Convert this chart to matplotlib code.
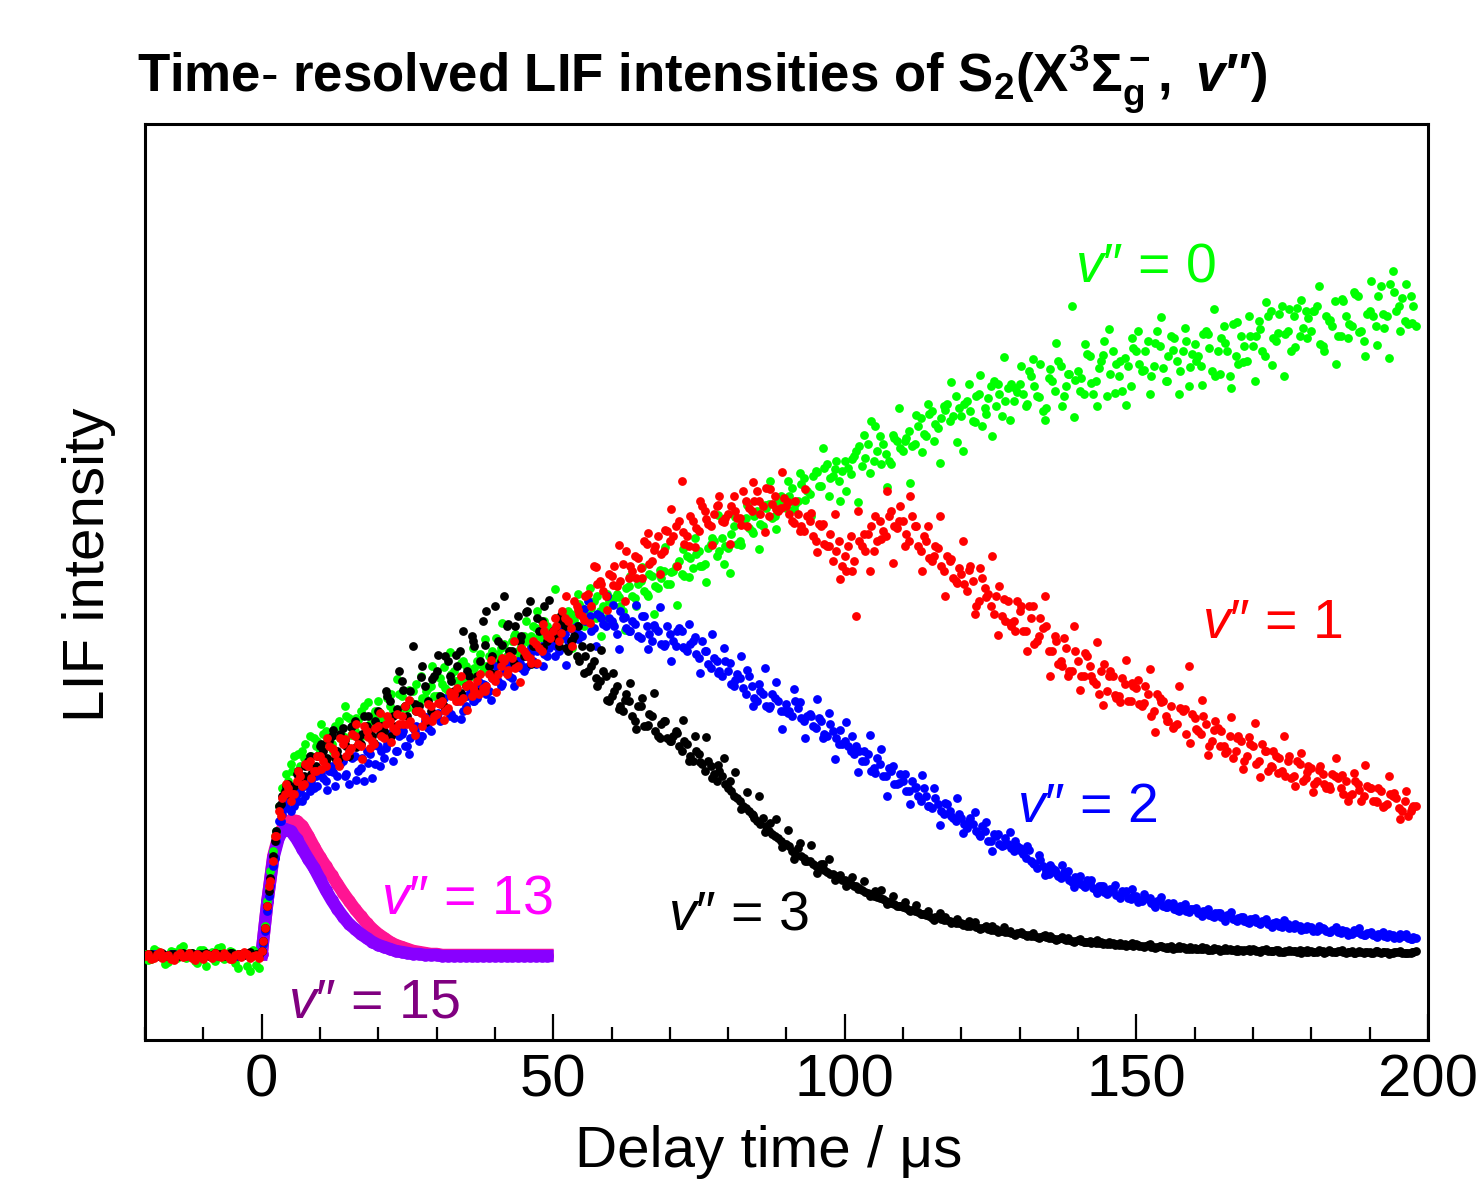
import numpy as np
import matplotlib
matplotlib.use("Agg")
import matplotlib.pyplot as plt
from matplotlib.ticker import MultipleLocator

plt.rcParams['font.family'] = ['Liberation Sans', 'DejaVu Sans']
plt.rcParams['mathtext.fontset'] = 'custom'
plt.rcParams['mathtext.rm'] = 'Liberation Sans'
plt.rcParams['mathtext.it'] = 'Liberation Sans:italic'
plt.rcParams['mathtext.bf'] = 'Liberation Sans:bold'
plt.rcParams['mathtext.bfit'] = 'Liberation Sans:bold:italic'

# ---------------- data ----------------
t_main = np.arange(-20, 199)             # delay time grid (us), v''=0..3, set A
t_half = np.arange(-19.5, 198, 1.0)      # delay time grid (us), v''=0..3, set B
t_quar = np.arange(0.25, 198, 1.0)       # delay time grid (us), v''=0..3, set C
t_fast = np.arange(0, 50)                # delay time grid (us), v''=13, 15

# ---- set A (integer delays) ----
v0_green_a = [
    0.02, -0.03, 0.05, 0.01, -0.06, 0.04, 0.08, -0.02, 0.03, -0.07,
    0.06, 0.02, -0.05, 0.09, -0.01, 0.04, -0.12, 0.03, -0.15, -0.09,
    0.05, 0.55, 1.05, 1.5, 1.7, 1.92, 1.85, 2.05, 1.98, 2.18,
    2.05, 2.25, 2.12, 2.3, 2.2, 2.38, 2.25, 2.45, 2.3, 2.4,
    2.55, 2.35, 2.5, 2.42, 2.6, 2.48, 2.65, 2.52, 2.58, 2.7,
    2.6, 2.72, 2.65, 2.85, 2.75, 2.9, 2.8, 2.95, 2.85, 3.0,
    2.95, 3.08, 3.0, 3.15, 3.05, 3.2, 3.12, 3.28, 3.18, 3.3,
    3.22, 3.35, 3.28, 3.42, 3.3, 3.48, 3.4, 3.55, 3.45, 3.38,
    3.52, 3.62, 3.45, 3.7, 3.58, 3.75, 3.62, 3.8, 3.68, 3.85,
    3.72, 3.9, 3.82, 4.0, 3.88, 4.05, 3.92, 4.12, 4.0, 4.18,
    4.08, 4.3, 4.15, 4.38, 4.25, 4.45, 4.3, 4.52, 4.4, 4.6,
    4.48, 4.68, 4.55, 4.78, 4.62, 4.85, 4.7, 4.92, 4.8, 4.75,
    4.95, 4.82, 5.05, 4.9, 5.12, 4.95, 5.2, 5.02, 4.92, 5.15,
    5.05, 5.25, 5.12, 5.38, 5.2, 5.45, 5.28, 5.5, 5.35, 5.6,
    5.4, 5.55, 5.35, 5.62, 5.48, 5.7, 5.5, 5.4, 5.68, 5.55,
    5.72, 5.5, 5.8, 5.6, 5.45, 5.78, 5.65, 5.9, 5.7, 6.5,
    5.85, 5.62, 6.0, 5.75, 5.95, 5.6, 6.05, 5.8, 5.98, 5.7,
    6.05, 5.85, 6.15, 5.9, 6.1, 5.75, 6.2, 5.95, 6.05, 5.7,
    6.12, 5.9, 6.25, 5.85, 6.05, 6.3, 5.8, 6.0, 6.2, 5.95,
    6.1, 6.35, 6.0, 6.45, 6.15, 6.5, 6.25, 6.4, 6.2, 6.45,
    6.25, 6.5, 6.1, 6.35, 6.55, 6.2, 6.4, 6.3, 6.6, 6.15,
    6.45, 6.3, 6.7, 6.4, 6.85, 6.5, 6.35, 6.6, 6.3]

v1_red_a = [
    0.0, -0.03, 0.02, -0.02, 0.01, -0.04, 0.03, 0.0, -0.02, 0.02,
    -0.03, 0.01, 0.03, -0.01, 0.0, -0.03, 0.02, 0.04, -0.02, 0.01,
    0.05, 0.5, 0.95, 1.45, 1.62, 1.55, 1.75, 1.7, 1.9, 1.85,
    2.0, 1.9, 2.08, 1.95, 2.12, 2.05, 2.2, 2.1, 2.25, 2.15,
    2.3, 2.18, 2.35, 2.25, 2.4, 2.32, 2.28, 2.45, 2.38, 2.5,
    2.42, 2.55, 2.48, 2.62, 2.55, 2.7, 2.6, 2.75, 2.68, 2.82,
    2.75, 2.9, 2.82, 2.98, 2.9, 3.05, 2.98, 3.12, 3.05, 3.2,
    3.25, 3.15, 3.38, 3.28, 3.5, 3.4, 3.62, 3.9, 3.75, 3.6,
    3.8, 3.7, 3.92, 3.78, 4.0, 3.88, 4.12, 3.95, 4.2, 4.05,
    4.15, 4.3, 4.75, 4.2, 4.35, 4.25, 4.45, 4.3, 4.5, 4.35,
    4.42, 4.6, 4.38, 4.55, 4.45, 4.65, 4.5, 4.4, 4.6, 4.48,
    4.5, 4.35, 4.42, 4.25, 4.35, 4.15, 4.3, 4.1, 3.95, 4.15,
    4.0, 4.2, 3.4, 4.1, 4.22, 4.05, 4.35, 4.2, 4.45, 4.28,
    4.35, 4.15, 4.3, 4.05, 4.15, 3.95, 4.08, 3.85, 3.95, 3.75,
    3.82, 3.65, 3.75, 3.55, 3.68, 3.5, 3.6, 3.4, 3.55, 3.35,
    3.45, 3.25, 3.38, 3.15, 3.28, 3.05, 3.2, 2.95, 3.08, 2.85,
    2.95, 2.8, 2.9, 2.72, 2.85, 2.65, 2.8, 2.6, 2.72, 2.55,
    2.68, 2.5, 2.62, 2.45, 2.58, 2.4, 2.5, 2.32, 2.45, 2.9,
    2.38, 2.22, 2.32, 2.15, 2.28, 2.1, 2.2, 2.05, 2.15, 2.0,
    2.1, 1.95, 2.05, 1.9, 2.0, 1.85, 1.95, 1.8, 1.92, 1.78,
    1.88, 1.75, 1.82, 1.7, 1.8, 1.68, 1.75, 1.62, 1.72, 1.6,
    1.68, 1.55, 1.65, 1.52, 1.6, 1.48, 1.55, 1.45, 1.5]

v2_blue_a = [
    0.01, 0.0, 0.02, 0.01, 0.0, 0.02, 0.01, 0.0, 0.01, 0.02,
    0.0, 0.01, 0.02, 0.0, 0.01, 0.02, 0.0, 0.01, 0.02, 0.01,
    0.05, 0.45, 0.9, 1.35, 1.5, 1.45, 1.62, 1.55, 1.72, 1.68,
    1.82, 1.75, 1.9, 1.8, 1.95, 1.72, 2.0, 1.88, 2.05, 1.78,
    2.1, 1.98, 2.15, 2.05, 2.22, 2.1, 2.28, 2.15, 2.35, 2.25,
    2.4, 2.55, 2.45, 2.38, 2.6, 2.5, 2.68, 2.58, 2.72, 2.65,
    2.8, 2.7, 2.88, 2.78, 2.95, 2.85, 3.02, 2.92, 3.1, 3.0,
    3.15, 3.05, 3.22, 3.12, 3.3, 3.2, 3.55, 3.28, 3.4, 3.3,
    3.35, 3.22, 3.38, 3.25, 3.32, 3.18, 3.3, 3.15, 3.25, 3.1,
    3.22, 3.1, 3.25, 3.05, 3.15, 2.98, 3.05, 2.88, 2.95, 2.8,
    2.85, 2.7, 2.78, 2.62, 2.7, 2.55, 2.62, 2.48, 2.58, 2.45,
    2.52, 2.4, 2.48, 2.35, 2.42, 2.28, 2.35, 2.2, 2.25, 2.12,
    2.15, 2.05, 2.1, 1.95, 2.02, 1.88, 1.92, 1.8, 1.85, 1.72,
    1.75, 1.65, 1.68, 1.55, 1.6, 1.48, 1.52, 1.42, 1.45, 1.35,
    1.38, 1.28, 1.32, 1.22, 1.25, 1.15, 1.2, 1.1, 1.12, 1.05,
    1.08, 0.98, 0.95, 0.88, 0.9, 0.82, 0.86, 0.78, 0.8, 0.74,
    0.76, 0.7, 0.73, 0.66, 0.7, 0.62, 0.66, 0.6, 0.63, 0.57,
    0.6, 0.55, 0.57, 0.51, 0.55, 0.49, 0.52, 0.46, 0.5, 0.44,
    0.47, 0.42, 0.45, 0.4, 0.43, 0.38, 0.41, 0.36, 0.39, 0.34,
    0.37, 0.33, 0.35, 0.31, 0.34, 0.29, 0.32, 0.28, 0.3, 0.27,
    0.29, 0.25, 0.28, 0.24, 0.27, 0.23, 0.25, 0.22, 0.24, 0.21,
    0.23, 0.2, 0.22, 0.19, 0.21, 0.18, 0.2, 0.17, 0.18]

v3_black_a = [
    0.01, 0.02, 0.0, 0.03, 0.01, 0.02, 0.0, 0.02, 0.03, 0.01,
    0.02, 0.0, 0.03, 0.02, 0.01, 0.03, 0.02, 0.01, 0.04, 0.02,
    0.05, 0.5, 1.0, 1.5, 1.65, 1.6, 1.82, 1.75, 1.95, 1.88,
    2.1, 1.95, 2.2, 2.05, 2.28, 2.0, 2.35, 2.12, 2.3, 2.2,
    2.45, 2.25, 2.55, 2.3, 2.75, 2.4, 3.1, 2.5, 2.7, 2.45,
    2.85, 2.55, 2.95, 2.65, 3.05, 2.7, 3.2, 2.8, 3.35, 2.9,
    3.5, 2.95, 3.3, 3.05, 3.4, 3.0, 3.55, 3.1, 3.35, 3.15,
    3.25, 3.1, 3.3, 3.15, 3.0, 3.1, 2.85, 2.95, 2.75, 2.8,
    2.6, 2.7, 2.45, 2.55, 2.35, 2.5, 2.3, 2.4, 2.2, 2.35,
    2.15, 2.25, 2.05, 2.12, 1.95, 2.02, 1.85, 1.9, 1.75, 1.8,
    1.68, 1.6, 1.55, 1.48, 1.42, 1.35, 1.38, 1.25, 1.2, 1.15,
    1.12, 1.05, 1.08, 0.98, 0.95, 0.9, 0.92, 0.84, 0.82, 0.78,
    0.76, 0.72, 0.7, 0.66, 0.63, 0.6, 0.58, 0.55, 0.53, 0.5,
    0.49, 0.46, 0.45, 0.42, 0.41, 0.38, 0.39, 0.36, 0.35, 0.33,
    0.33, 0.3, 0.31, 0.28, 0.29, 0.26, 0.27, 0.25, 0.24, 0.22,
    0.23, 0.21, 0.2, 0.19, 0.2, 0.18, 0.17, 0.18, 0.16, 0.15,
    0.16, 0.14, 0.15, 0.13, 0.14, 0.12, 0.13, 0.11, 0.12, 0.11,
    0.12, 0.1, 0.11, 0.09, 0.1, 0.08, 0.1, 0.08, 0.09, 0.07,
    0.08, 0.07, 0.08, 0.06, 0.07, 0.06, 0.07, 0.05, 0.06, 0.06,
    0.07, 0.05, 0.06, 0.05, 0.06, 0.04, 0.05, 0.05, 0.06, 0.04,
    0.05, 0.04, 0.05, 0.06, 0.04, 0.05, 0.03, 0.05, 0.04, 0.03,
    0.04, 0.05, 0.03, 0.04, 0.03, 0.04, 0.03, 0.03, 0.05]

# ---- set B (half-integer delays) ----
v0_green_b = [
    -0.04, 0.07, 0.0, -0.08, 0.05, -0.02, 0.1, 0.03, -0.05, 0.06,
    -0.1, 0.04, 0.08, -0.03, 0.05, -0.07, 0.02, -0.1, 0.06, -0.12,
    0.3, 0.85, 1.25, 1.68, 1.75, 2.0, 1.9, 2.12, 2.0, 2.15,
    2.22, 2.1, 2.3, 2.18, 2.4, 2.28, 2.36, 2.5, 2.32, 2.45,
    2.38, 2.58, 2.45, 2.62, 2.5, 2.55, 2.72, 2.58, 2.68, 2.6,
    2.78, 2.68, 2.82, 2.75, 2.95, 2.82, 2.88, 3.02, 2.9, 3.05,
    3.02, 3.12, 3.05, 3.22, 3.1, 3.15, 3.3, 3.2, 3.35, 3.25,
    3.38, 3.3, 3.45, 3.36, 3.52, 3.42, 3.48, 3.6, 3.5, 3.55,
    3.58, 3.5, 3.68, 3.6, 3.72, 3.65, 3.82, 3.7, 3.78, 3.72,
    3.85, 3.95, 3.8, 3.98, 4.02, 3.9, 4.08, 4.15, 4.05, 4.1,
    4.22, 4.12, 4.35, 4.28, 4.4, 4.32, 4.48, 4.38, 4.55, 4.5,
    4.6, 4.52, 4.72, 4.65, 4.8, 4.7, 4.88, 4.78, 4.95, 4.85,
    4.88, 5.0, 5.1, 4.98, 5.35, 5.05, 5.12, 4.95, 5.18, 5.08,
    5.18, 5.1, 5.3, 5.22, 5.42, 5.32, 5.38, 5.52, 5.4, 5.48,
    5.52, 5.45, 5.6, 5.3, 5.58, 5.75, 5.62, 5.55, 5.72, 5.64,
    5.62, 5.85, 5.7, 5.92, 5.48, 5.75, 5.95, 5.6, 5.82, 5.76,
    5.78, 6.02, 5.62, 5.88, 6.15, 5.82, 5.92, 5.65, 5.9, 6.08,
    5.92, 6.05, 5.8, 6.25, 5.88, 6.0, 6.18, 5.85, 6.15, 6.02,
    6.0, 6.22, 6.08, 5.8, 6.18, 6.05, 6.32, 5.92, 6.1, 6.2,
    6.2, 6.05, 6.4, 6.18, 6.42, 6.22, 6.05, 6.48, 6.28, 6.38,
    6.45, 6.12, 6.4, 6.3, 6.2, 6.55, 6.32, 6.62, 6.25, 6.42,
    6.4, 6.6, 6.28, 6.72, 6.45, 6.58, 6.32, 6.5]

v1_red_b = [
    0.02, -0.02, 0.04, 0.0, -0.03, 0.01, -0.01, 0.03, -0.04, 0.0,
    0.02, -0.02, 0.0, 0.03, -0.03, 0.01, -0.01, 0.02, 0.0, -0.02,
    0.28, 0.75, 1.2, 1.58, 1.68, 1.62, 1.8, 1.92, 1.78, 2.0,
    1.95, 2.1, 2.02, 2.18, 2.0, 2.22, 2.12, 2.3, 2.08, 2.28,
    2.2, 2.4, 2.28, 2.32, 2.5, 2.35, 2.45, 2.3, 2.52, 2.4,
    2.52, 2.45, 2.6, 2.68, 2.58, 2.72, 2.65, 2.82, 2.7, 2.78,
    2.82, 2.95, 3.0, 2.88, 3.08, 3.0, 3.15, 3.08, 3.25, 3.18,
    3.3, 3.45, 3.35, 3.55, 3.42, 3.6, 3.5, 3.72, 3.65, 3.82,
    3.9, 3.75, 4.05, 3.85, 3.98, 4.15, 3.92, 4.1, 4.02, 4.25,
    4.2, 4.35, 4.12, 4.4, 4.28, 4.5, 4.32, 4.42, 4.6, 4.38,
    4.5, 4.38, 4.65, 4.48, 4.55, 4.42, 4.68, 4.52, 4.45, 4.58,
    4.42, 4.55, 4.3, 4.4, 4.2, 4.32, 4.12, 4.22, 4.05, 3.9,
    4.1, 3.95, 4.15, 4.05, 4.3, 4.15, 4.25, 4.4, 4.3, 4.5,
    4.22, 4.4, 4.1, 4.2, 3.98, 4.1, 3.9, 4.0, 3.78, 3.88,
    3.72, 3.9, 3.5, 3.78, 3.62, 3.42, 3.7, 3.35, 3.3, 3.55,
    3.25, 3.5, 3.12, 3.38, 3.3, 3.05, 2.92, 3.18, 2.85, 3.05,
    2.8, 3.0, 2.75, 2.62, 2.92, 2.85, 2.58, 2.78, 2.55, 2.7,
    2.52, 2.7, 2.4, 2.62, 2.55, 2.35, 2.3, 2.48, 2.22, 2.42,
    2.25, 2.4, 2.1, 2.35, 2.25, 2.05, 1.98, 2.2, 1.95, 2.12,
    1.92, 2.12, 1.85, 2.05, 1.98, 1.8, 1.78, 1.95, 1.75, 1.9,
    1.72, 1.9, 1.68, 1.82, 1.78, 1.62, 1.6, 1.75, 1.55, 1.7,
    1.55, 1.68, 1.5, 1.62, 1.58, 1.45, 1.4, 1.5]

v2_blue_b = [
    0.01, 0.02, 0.0, 0.01, 0.02, 0.01, 0.0, 0.02, 0.01, 0.0,
    0.02, 0.01, 0.0, 0.01, 0.02, 0.0, 0.01, 0.02, 0.01, 0.0,
    0.25, 0.7, 1.15, 1.42, 1.55, 1.5, 1.65, 1.6, 1.75, 1.7,
    1.78, 1.85, 1.7, 1.92, 1.82, 1.98, 1.85, 1.75, 2.02, 1.92,
    2.05, 2.12, 1.95, 2.2, 2.1, 2.18, 2.3, 2.2, 2.28, 2.4,
    2.35, 2.48, 2.42, 2.55, 2.45, 2.62, 2.55, 2.7, 2.62, 2.78,
    2.75, 2.85, 2.8, 2.92, 2.88, 3.0, 2.95, 3.08, 3.02, 3.15,
    3.1, 3.2, 3.15, 3.28, 3.22, 3.35, 3.25, 3.42, 3.32, 3.38,
    3.3, 3.45, 3.28, 3.35, 3.2, 3.4, 3.22, 3.28, 3.12, 3.3,
    3.15, 3.28, 3.08, 3.12, 3.02, 3.15, 2.92, 2.98, 2.85, 2.95,
    2.72, 2.82, 2.68, 2.8, 2.58, 2.65, 2.5, 2.62, 2.55, 2.45,
    2.45, 2.55, 2.38, 2.4, 2.3, 2.38, 2.22, 2.32, 2.18, 2.12,
    2.1, 2.02, 2.05, 1.95, 1.85, 1.98, 1.8, 1.88, 1.72, 1.82,
    1.65, 1.75, 1.6, 1.68, 1.5, 1.58, 1.45, 1.52, 1.38, 1.42,
    1.32, 1.38, 1.25, 1.3, 1.15, 1.22, 1.12, 1.18, 1.08, 1.1,
    1.02, 1.06, 0.92, 0.96, 0.85, 0.88, 0.8, 0.84, 0.76, 0.79,
    0.72, 0.76, 0.68, 0.7, 0.64, 0.67, 0.61, 0.65, 0.58, 0.6,
    0.56, 0.59, 0.53, 0.55, 0.5, 0.53, 0.47, 0.5, 0.45, 0.47,
    0.43, 0.45, 0.41, 0.43, 0.39, 0.41, 0.37, 0.38, 0.35, 0.37,
    0.34, 0.35, 0.32, 0.33, 0.3, 0.32, 0.29, 0.3, 0.27, 0.28,
    0.26, 0.27, 0.25, 0.26, 0.24, 0.25, 0.23, 0.24, 0.22, 0.23,
    0.21, 0.22, 0.2, 0.21, 0.19, 0.2, 0.18, 0.19]

v3_black_b = [
    0.02, 0.01, 0.03, 0.0, 0.02, 0.01, 0.03, 0.01, 0.0, 0.02,
    0.03, 0.01, 0.02, 0.0, 0.03, 0.01, 0.02, 0.03, 0.01, 0.02,
    0.28, 0.78, 1.25, 1.6, 1.72, 1.7, 1.78, 1.9, 1.82, 2.0,
    2.05, 2.15, 1.98, 2.22, 2.1, 2.3, 2.18, 2.4, 2.25, 2.35,
    2.3, 2.6, 2.4, 2.85, 2.5, 2.65, 2.45, 2.9, 2.55, 2.8,
    2.6, 3.0, 2.75, 2.9, 3.25, 2.8, 3.1, 2.95, 3.45, 3.0,
    3.15, 3.6, 3.05, 3.3, 3.2, 3.45, 3.1, 3.25, 3.5, 3.2,
    3.18, 3.35, 3.05, 3.2, 2.95, 3.0, 2.9, 2.7, 2.85, 2.55,
    2.65, 2.5, 2.62, 2.4, 2.5, 2.3, 2.42, 2.25, 2.32, 2.18,
    2.2, 2.1, 2.15, 2.0, 2.05, 1.92, 1.95, 1.82, 1.85, 1.72,
    1.65, 1.58, 1.5, 1.45, 1.38, 1.32, 1.3, 1.22, 1.18, 1.12,
    1.1, 1.02, 1.0, 0.95, 0.92, 0.88, 0.86, 0.82, 0.8, 0.76,
    0.74, 0.7, 0.68, 0.64, 0.62, 0.59, 0.57, 0.54, 0.52, 0.5,
    0.48, 0.46, 0.44, 0.42, 0.4, 0.39, 0.37, 0.36, 0.34, 0.33,
    0.32, 0.3, 0.29, 0.28, 0.27, 0.26, 0.25, 0.24, 0.23, 0.23,
    0.22, 0.21, 0.2, 0.19, 0.19, 0.18, 0.17, 0.17, 0.16, 0.15,
    0.15, 0.14, 0.14, 0.13, 0.13, 0.12, 0.12, 0.11, 0.11, 0.1,
    0.1, 0.1, 0.09, 0.09, 0.09, 0.08, 0.08, 0.08, 0.07, 0.07,
    0.07, 0.07, 0.06, 0.07, 0.06, 0.06, 0.06, 0.05, 0.06, 0.05,
    0.05, 0.06, 0.05, 0.05, 0.04, 0.05, 0.05, 0.04, 0.05, 0.04,
    0.04, 0.05, 0.04, 0.04, 0.05, 0.04, 0.04, 0.03, 0.04, 0.04,
    0.03, 0.04, 0.04, 0.03, 0.04, 0.03, 0.03, 0.04]

# ---- set C (quarter-offset delays, 0.25 .. 197.25 us) ----
v0_green_c = [
    0.12, 0.68, 1.2, 1.5, 1.82, 1.85, 2.02, 1.98, 2.2, 2.1,
    2.32, 2.15, 2.05, 2.35, 2.5, 2.21, 2.38, 2.2, 2.54, 2.37,
    2.43, 2.34, 2.62, 2.77, 2.48, 2.66, 2.46, 2.8, 2.65, 2.9,
    2.6, 2.89, 3.04, 2.75, 2.93, 2.75, 3.08, 2.92, 3.17, 3.0,
    3.18, 3.33, 3.0, 3.2, 3.0, 3.35, 3.2, 3.45, 3.26, 3.16,
    3.67, 3.17, 3.42, 3.08, 3.62, 3.3, 3.68, 3.38, 3.2, 3.62,
    3.32, 3.59, 3.26, 3.8, 3.5, 3.89, 3.6, 3.42, 3.86, 4.09,
    3.84, 3.51, 4.07, 3.79, 4.18, 3.9, 3.74, 4.18, 4.41, 3.92,
    3.83, 4.39, 4.11, 4.51, 4.23, 4.07, 4.51, 4.75, 4.27, 4.55,
    4.75, 4.47, 4.83, 4.56, 4.4, 4.84, 5.08, 4.6, 4.87, 4.55,
    4.65, 4.97, 4.54, 5.21, 4.83, 5.3, 4.92, 4.69, 5.21, 5.48,
    5.15, 4.73, 5.41, 5.04, 5.52, 5.15, 4.93, 5.46, 5.74, 5.14,
    5.05, 5.72, 5.34, 5.81, 5.42, 5.2, 5.72, 5.99, 5.36, 5.68,
    5.9, 5.52, 5.97, 5.59, 5.36, 5.87, 6.13, 5.5, 5.82, 5.39,
    5.65, 6.12, 5.73, 5.5, 6.01, 6.27, 5.63, 5.95, 5.51, 6.18,
    6.25, 5.86, 5.62, 6.13, 6.39, 5.75, 6.06, 5.62, 6.28, 5.89,
    5.95, 5.71, 6.22, 6.47, 5.82, 6.13, 5.68, 6.34, 5.94, 6.4,
    5.75, 6.27, 6.54, 5.91, 6.23, 5.8, 6.47, 6.09, 6.56, 6.18,
    6.45, 6.7, 6.05, 6.36, 5.92, 6.57, 6.18, 6.64, 6.24, 6.0,
    6.75, 6.11, 6.42, 5.98, 6.64, 6.25, 6.72, 6.33]

v1_red_c = [
    0.15, 0.7, 1.2, 1.4, 1.72, 1.62, 1.85, 1.72, 1.95, 1.85,
    1.87, 2.18, 2.07, 1.9, 2.17, 2.08, 2.32, 1.97, 2.19, 2.12,
    2.43, 2.32, 2.14, 2.42, 2.32, 2.56, 2.21, 2.43, 2.36, 2.35,
    2.53, 2.36, 2.64, 2.55, 2.8, 2.46, 2.69, 2.62, 2.65, 2.96,
    2.64, 2.98, 2.86, 3.15, 2.74, 3.02, 2.93, 2.93, 3.32, 3.21,
    3.38, 3.23, 3.6, 3.1, 3.46, 3.36, 3.33, 3.89, 3.72, 3.46,
    3.71, 4.11, 3.55, 3.9, 3.78, 3.78, 4.23, 4.06, 3.82, 4.26,
    4.47, 3.9, 4.24, 4.1, 4.09, 4.55, 4.37, 4.11, 4.51, 4.34,
    4.12, 4.45, 4.31, 4.3, 4.74, 4.55, 4.24, 4.67, 4.47, 4.84,
    4.54, 4.33, 4.25, 4.67, 4.43, 4.04, 4.32, 4.1, 4.42, 3.77,
    3.85, 3.85, 4.45, 4.22, 3.85, 4.4, 4.17, 4.65, 3.93, 4.35,
    4.1, 4.6, 4.3, 3.85, 4.3, 4.0, 4.4, 3.6, 3.97, 3.73,
    4.15, 3.86, 3.42, 3.88, 3.59, 4.0, 3.21, 3.57, 3.33, 3.25,
    3.5, 3.05, 3.5, 3.2, 3.6, 2.8, 3.15, 2.9, 2.8, 3.3,
    2.66, 3.03, 2.8, 3.14, 2.51, 2.8, 2.61, 2.54, 2.96, 2.73,
    2.76, 2.53, 2.87, 2.24, 2.54, 2.35, 2.28, 2.7, 2.47, 2.13,
    2.27, 2.56, 2.01, 2.26, 2.1, 2.03, 2.39, 2.18, 1.87, 2.19,
    2.33, 1.79, 2.05, 1.89, 1.83, 2.2, 2.0, 1.7, 2.03, 1.84,
    1.64, 1.86, 1.72, 1.67, 1.98, 1.81, 1.55, 1.83, 1.66, 1.91,
    1.68, 1.54, 1.49, 1.8, 1.63, 1.37, 1.65, 1.48]

v2_blue_c = [
    0.12, 0.6, 0.98, 1.35, 1.48, 1.6, 1.55, 1.7, 1.65, 1.8,
    1.83, 1.66, 1.84, 1.98, 1.8, 1.99, 1.76, 1.98, 1.93, 2.11,
    1.9, 2.08, 2.23, 2.05, 2.25, 2.02, 2.25, 2.2, 2.39, 2.37,
    2.43, 2.58, 2.4, 2.6, 2.37, 2.6, 2.55, 2.74, 2.71, 2.56,
    2.9, 2.72, 2.93, 2.7, 2.93, 2.89, 3.08, 3.05, 2.9, 3.08,
    3.0, 3.31, 2.91, 3.27, 3.17, 3.47, 3.4, 3.1, 3.38, 3.6,
    3.51, 3.07, 3.39, 3.25, 3.51, 3.4, 3.07, 3.31, 3.49, 3.12,
    2.95, 3.25, 3.09, 3.32, 3.19, 2.83, 3.05, 3.22, 2.83, 3.08,
    2.93, 2.76, 3.0, 2.86, 2.5, 2.72, 2.88, 2.5, 2.74, 2.27,
    2.43, 2.67, 2.54, 2.18, 2.4, 2.57, 2.18, 2.43, 1.97, 2.26,
    2.34, 2.2, 1.84, 2.05, 2.21, 1.83, 2.07, 1.6, 1.9, 1.73,
    1.82, 1.52, 1.69, 1.81, 1.5, 1.68, 1.31, 1.53, 1.4, 1.58,
    1.23, 1.35, 1.44, 1.2, 1.34, 1.05, 1.22, 1.11, 1.24, 1.15,
    1.05, 1.1, 0.93, 1.01, 0.81, 0.91, 0.83, 0.91, 0.85, 0.69,
    0.8, 0.69, 0.76, 0.63, 0.7, 0.64, 0.71, 0.58, 0.65, 0.67,
    0.54, 0.62, 0.58, 0.49, 0.59, 0.49, 0.53, 0.45, 0.52, 0.47,
    0.48, 0.4, 0.47, 0.39, 0.43, 0.35, 0.44, 0.35, 0.39, 0.33,
    0.38, 0.32, 0.37, 0.29, 0.33, 0.36, 0.28, 0.32, 0.26, 0.3,
    0.25, 0.3, 0.27, 0.24, 0.29, 0.26, 0.21, 0.26, 0.28, 0.21,
    0.24, 0.19, 0.24, 0.22, 0.18, 0.22, 0.22, 0.17]

v3_black_c = [
    0.15, 0.65, 1.15, 1.52, 1.7, 1.68, 1.85, 1.8, 2.0, 1.9,
    2.12, 1.98, 2.26, 1.98, 2.16, 2.29, 2.09, 2.22, 2.4, 2.13,
    2.22, 2.65, 2.2, 2.47, 2.66, 2.33, 2.52, 2.79, 2.34, 2.77,
    3.01, 2.5, 2.8, 3.01, 2.63, 2.85, 3.15, 2.64, 3.11, 2.83,
    2.82, 3.11, 3.32, 2.93, 3.15, 3.44, 2.92, 3.38, 3.09, 3.56,
    3.27, 3.41, 3.08, 3.16, 3.3, 2.83, 3.09, 2.78, 3.06, 2.56,
    2.83, 2.47, 2.56, 2.73, 2.27, 2.58, 2.31, 2.63, 2.18, 2.35,
    2.15, 2.23, 2.36, 1.95, 2.2, 1.94, 2.19, 1.78, 1.91, 1.98,
    1.75, 1.84, 1.47, 1.64, 1.41, 1.6, 1.24, 1.33, 1.37, 1.09,
    1.26, 0.97, 1.13, 0.95, 1.11, 0.83, 0.92, 0.97, 0.76, 0.81,
    0.7, 0.79, 0.67, 0.75, 0.6, 0.65, 0.66, 0.52, 0.6, 0.5,
    0.54, 0.45, 0.51, 0.42, 0.45, 0.36, 0.43, 0.39, 0.33, 0.37,
    0.31, 0.35, 0.34, 0.27, 0.3, 0.3, 0.24, 0.29, 0.25, 0.21,
    0.24, 0.2, 0.23, 0.18, 0.21, 0.2, 0.16, 0.19, 0.18, 0.14,
    0.17, 0.14, 0.13, 0.16, 0.12, 0.14, 0.11, 0.13, 0.1, 0.13,
    0.11, 0.09, 0.12, 0.08, 0.1, 0.09, 0.07, 0.1, 0.08, 0.09,
    0.07, 0.09, 0.06, 0.08, 0.05, 0.08, 0.06, 0.07, 0.05, 0.07,
    0.06, 0.04, 0.07, 0.05, 0.06, 0.04, 0.06, 0.05, 0.03, 0.06,
    0.04, 0.06, 0.03, 0.05, 0.04, 0.06, 0.04, 0.03, 0.05, 0.04,
    0.03, 0.05, 0.04, 0.02, 0.04, 0.05, 0.03, 0.04]

v13_magenta = [
    0.02, 0.55, 1.0, 1.22, 1.32, 1.36, 1.35, 1.3, 1.2, 1.09,
    0.99, 0.9, 0.81, 0.72, 0.63, 0.55, 0.47, 0.4, 0.33, 0.27,
    0.22, 0.18, 0.14, 0.11, 0.09, 0.07, 0.05, 0.04, 0.03, 0.02,
    0.02, 0.01, 0.01, 0.01, 0.01, 0.01, 0.01, 0.01, 0.01, 0.01,
    0.01, 0.01, 0.01, 0.01, 0.01, 0.01, 0.01, 0.01, 0.01, 0.01]

v15_purple = [
    0.02, 0.55, 0.98, 1.2, 1.27, 1.25, 1.17, 1.07, 0.97, 0.88,
    0.77, 0.66, 0.56, 0.47, 0.39, 0.32, 0.27, 0.22, 0.18, 0.14,
    0.11, 0.09, 0.07, 0.05, 0.04, 0.03, 0.02, 0.02, 0.01, 0.01,
    0.01, 0.0, 0.0, 0.0, 0.0, 0.0, 0.0, 0.0, 0.0, 0.0,
    0.0, 0.0, 0.0, 0.0, 0.0, 0.0, 0.0, 0.0, 0.0, 0.0]

x_ticks = [0, 50, 100, 150, 200]
x_ticklabels = ['0', '50', '100', '150', '200']

# ---------------- figure ----------------
fig = plt.figure(figsize=(14.84, 11.8), dpi=100)
ax = fig.add_axes([145/1484, 1-1040/1180, (1428-145)/1484, (1040-124)/1180])

t_all = np.concatenate([t_main, t_half, t_quar])
ms_main = 40
ax.plot(t_fast, v13_magenta, '-o', color='#ff1493', lw=9, ms=8, zorder=2)
ax.plot(t_fast, v15_purple, '-o', color='#8800ff', lw=9, ms=8, zorder=2.1)
ax.scatter(t_all, v0_green_a + v0_green_b + v0_green_c, s=ms_main,
           color='#00ff00', lw=0, zorder=3)
ax.scatter(t_all, v2_blue_a + v2_blue_b + v2_blue_c, s=ms_main,
           color='#0000ff', lw=0, zorder=3.1)
ax.scatter(t_all, v3_black_a + v3_black_b + v3_black_c, s=ms_main,
           color='#000000', lw=0, zorder=3.2)
ax.scatter(t_all, v1_red_a + v1_red_b + v1_red_c, s=ms_main,
           color='#ff0000', lw=0, zorder=3.3)

ax.set_xlim(-20, 200)
ax.set_ylim(-0.84, 8.32)
ax.set_xticks(x_ticks)
ax.set_xticklabels(x_ticklabels)
ax.xaxis.set_minor_locator(MultipleLocator(10))
ax.set_yticks([])
ax.tick_params(axis='x', which='major', direction='in', length=19, width=1.6,
               labelsize=43, pad=10)
ax.tick_params(axis='x', which='minor', direction='in', length=9.5, width=1.6)
for sp in ax.spines.values():
    sp.set_linewidth(2.2)

ax.set_xlabel('Delay time / \u03bcs', fontsize=42)
ax.xaxis.set_label_coords((769 - 145) / 1283, (1040 - 1125) / 916)
ax.set_ylabel('LIF intensity', fontsize=42)
ax.yaxis.set_label_coords((116 - 145) / 1283, (1040 - 565) / 916)

lab_kw = dict(fontsize=40, va='baseline', ha='left', family=['Liberation Sans', 'DejaVu Sans'])
ax.text(139.4, 6.74, '$v$\u2033 = 0', color='#00ff00', **lab_kw)
ax.text(161.3, 3.18, '$v$\u2033 = 1', color='#ff0000', **lab_kw)
ax.text(129.5, 1.34, '$v$\u2033 = 2', color='#0000ff', **lab_kw)
ax.text(69.7, 0.26, '$v$\u2033 = 3', color='#000000', **lab_kw)
ax.text(20.4, 0.43, '$v$\u2033 = 13', color='#ff00ff', **lab_kw)
ax.text(4.6, -0.61, '$v$\u2033 = 15', color='#800080', **lab_kw)

title = (r'$\mathbf{Time\text{-}\ resolved\ LIF\ intensities\ of\ S_2(X^3\Sigma_g^-,\ }\mathbfit{v}$'
         '\u2033' + r'$\mathbf{)}$')
fig.text(137/1484, 1-92/1180, title, fontsize=38, ha='left', va='baseline',
         family=['Liberation Sans', 'DejaVu Sans'], weight='bold')

fig.savefig('out.png', dpi=100)
